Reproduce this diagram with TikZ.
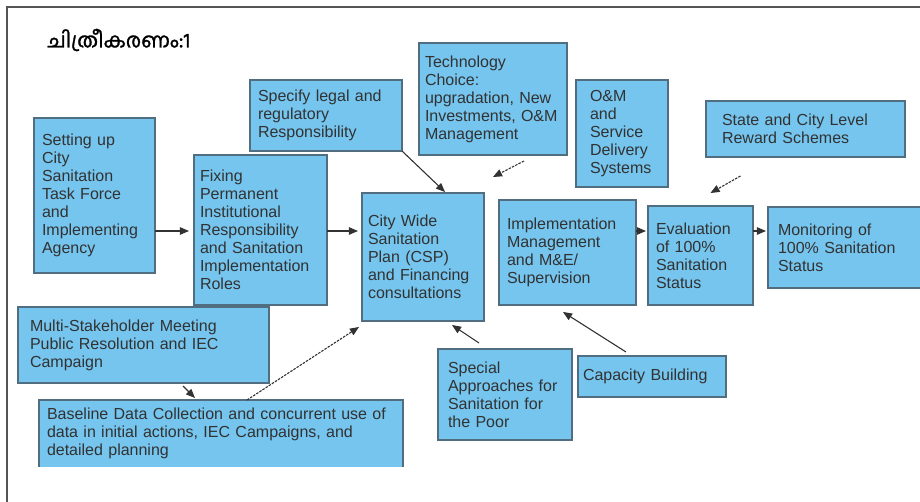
\documentclass[tikz,border=0pt]{standalone}
\usepackage{fontspec}
\setmainfont{Liberation Sans}
\newfontfamily\malfont[Script=Malayalam,FakeBold=1.3]{Hind Kochi}
\usetikzlibrary{arrows,positioning}
\definecolor{boxblue}{RGB}{117,197,238}
\definecolor{boxedge}{RGB}{80,110,128}
\definecolor{inkgray}{RGB}{50,50,50}
\definecolor{framegray}{RGB}{85,85,85}

\begin{document}
\begin{tikzpicture}[x=1pt,y=-1pt]
  \tikzset{>=triangle 45}
  \tikzset{stage/.style={draw=boxedge,fill=boxblue,line width=1.2pt,rectangle,inner xsep=8pt,inner ysep=0pt,outer sep=0pt,align=left,text=inkgray,font=\fontsize{16}{18}\selectfont}}
  \tikzset{link/.style={->,draw=inkgray,line width=1.1pt}}
  \tikzset{dashlink/.style={link,dash pattern=on 2.5pt off 1.2pt}}

\useasboundingbox (0,0) rectangle (920,502);
\draw[framegray,line width=2pt] (7,7) rectangle (940,520);

%%%%%%%%%%%%%%%%%%%%%%%%%%
\node[anchor=west,font=\malfont\fontsize{20.5}{24}\selectfont] (NTitle) at (44,40) {ചിത്രീകരണം:1};

%%%%%%%%%%%%%%%%%%%%%%%%%%
\node[stage,text width=105pt,minimum height=155pt] (NTaskForce) at (94.5,195.5) {Setting up\\City\\Sanitation\\Task Force\\and\\Implementing\\Agency};
\node[stage,inner xsep=6pt,text width=121pt,minimum height=150pt] (NFixing) at (260.5,230) {Fixing\\Permanent\\Institutional\\Responsibility\\and Sanitation\\Implementation\\Roles};
\node[stage,text width=136pt,minimum height=71pt] (NLegal) at (326,115.5) {Specify legal and\\regulatory\\Responsibility};
\node[stage,inner xsep=6pt,text width=110pt,minimum height=128pt] (NCSP) at (423,257) {City Wide\\Sanitation\\Plan (CSP)\\and Financing\\consultations};

%%%%%%%%%%%%%%%%%%%%%%%%%%
\node[stage,inner xsep=6pt,text width=136pt,minimum height=112pt] (NTechnology) at (493,99) {Technology\\Choice:\\upgradation, New\\Investments, O\&M\\Management};
\node[stage,inner xsep=14pt,text width=64pt,minimum height=107pt] (NOandM) at (622,133.5) {O\&M\\and\\Service\\Delivery\\Systems};
\node[stage,inner xsep=16pt,text width=167pt,minimum height=56pt] (NReward) at (805.5,129) {State and City Level\\Reward Schemes};

%%%%%%%%%%%%%%%%%%%%%%%%%%
\node[stage,text width=121pt,minimum height=105pt] (NImplementation) at (567.5,252.5) {Implementation\\Management\\and M\&E/\\Supervision};
\node[stage,text width=89pt,minimum height=99pt] (NEvaluation) at (700.5,255.5) {Evaluation\\of 100\%\\Sanitation\\Status};
\node[stage,inner xsep=10pt,text width=140pt,minimum height=81pt] (NMonitoring) at (848,247.5) {Monitoring of\\100\% Sanitation\\Status};

%%%%%%%%%%%%%%%%%%%%%%%%%%
\node[stage,inner xsep=12pt,text width=227pt,minimum height=76pt] (NMultiStakeholder) at (143.5,345) {Multi-Stakeholder Meeting\\Public Resolution and IEC\\Campaign};
\node[stage,draw=none,text width=348pt,minimum height=67pt] (NBaseline) at (221,433.5) {Baseline Data Collection and concurrent use of\\data in initial actions, IEC Campaigns, and\\detailed planning};
\draw[boxedge,line width=1.2pt] (NBaseline.south west) -- (NBaseline.north west) -- (NBaseline.north east) -- (NBaseline.south east);
\node[stage,inner xsep=10pt,text width=114pt,minimum height=91pt] (NSpecial) at (505,394.5) {Special\\Approaches for\\Sanitation for\\the Poor};
\node[stage,inner xsep=5pt,text width=138pt,minimum height=41pt] (NCapacity) at (652,376.5) {Capacity Building};

%%%

% ACROSS
\coordinate (RowMain) at (0,231);
\draw[link,shorten >=5pt] (NTaskForce.east |- RowMain) -- (NFixing.west |- RowMain);
\draw[link,shorten >=4pt] (NFixing.east |- RowMain) -- (NCSP.west |- RowMain);
\draw[link,shorten >=2pt] (NImplementation.east |- RowMain) -- (NEvaluation.west |- RowMain);
\draw[link,shorten >=2pt] (NEvaluation.east |- RowMain) -- (NMonitoring.west |- RowMain);

% INTO THE PLAN
\draw[link] (NLegal.south east) -- ([xshift=22pt,yshift=1pt]NCSP.north);
\draw[link] ([xshift=-26pt,yshift=6pt]NSpecial.north) -- ([xshift=29pt,yshift=-4pt]NCSP.south);
\draw[dashlink] ([xshift=26pt]NBaseline.north) -- ([xshift=-3pt,yshift=-6pt]NCSP.south west);
\draw[link] ([xshift=39.5pt,yshift=-3pt]NMultiStakeholder.south) -- ([xshift=-26pt,yshift=2pt]NBaseline.north);
\draw[link] ([xshift=-26pt,yshift=4pt]NCapacity.north) -- ([xshift=-4.5pt,yshift=-7pt]NImplementation.south);

% FREE
\coordinate (TechTail) at ([xshift=31pt,yshift=-6pt]NTechnology.south);
\coordinate (TechHead) at ([yshift=-22pt]NTechnology.south);
\draw[dashlink] (TechTail) -- (TechHead);
\coordinate (RewardTail) at ([xshift=40pt,yshift=30pt]NEvaluation.north);
\coordinate (RewardHead) at ([xshift=10pt,yshift=13pt]NEvaluation.north);
\draw[dashlink] (RewardTail) -- (RewardHead);

\end{tikzpicture}
\end{document}
